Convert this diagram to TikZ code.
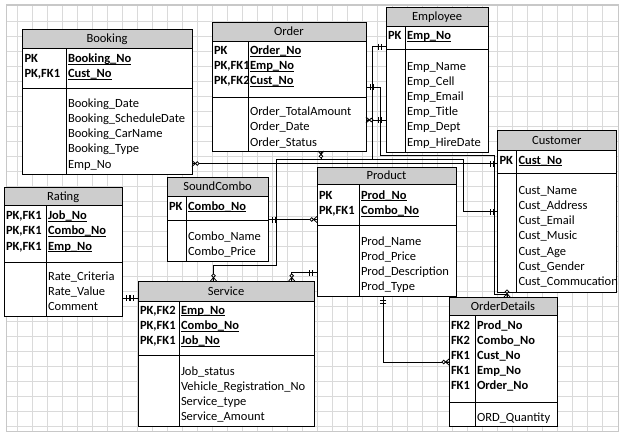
\documentclass[tikz,border=0pt]{standalone}
\usepackage{fontspec}
\setmainfont{Carlito}
\usetikzlibrary{calc}
\definecolor{hdrgray}{RGB}{205,205,205}
\definecolor{gridgray}{RGB}{218,218,218}
\definecolor{pagegray}{RGB}{200,200,200}
\newcommand{\ulkey}[1]{\setbox0\hbox{\bfseries #1}\rlap{\rule[-2.1pt]{\wd0}{0.8pt}}\box0}
\newcommand{\ertable}[9]{%
  \node[tblbox, minimum width={#4-#2}, minimum height={#5-#3}] (#1) at (#2,#3) {};
  \fill[hdrgray] (#2,#3) rectangle (#4,#6);
  \draw[tblline] (#2,#6) -- (#4,#6) (#2,#7) -- (#4,#7) (#8,#6) -- (#8,#5);
  \draw[tblline] (#1.north west) rectangle (#1.south east);
  \node[txt, anchor=base] (#1-title) at ({(#2+#4)/2},{(#3+#6)/2+4}) {#9};
}
\newcommand{\fld}[3]{\node[txt, anchor=base west] at (#1,#2) {#3};}
\tikzset{
  txt/.style={font=\fontsize{12.5}{15}\selectfont, inner sep=0pt, outer sep=0pt, text=black},
  tblbox/.style={fill=white, inner sep=0pt, outer sep=0pt, anchor=north west},
  tblline/.style={black, line width=0.8pt},
  connline/.style={black, line width=0.8pt},
  ermone/.pic={\draw[connline] (4.5,-3) -- (4.5,3) (7.5,-3) -- (7.5,3);},
  ermany/.pic={\draw[connline] (0,-3) -- (3.5,0) -- (0,3) (0,0) -- (3.5,0);
               \draw[connline, fill=white] (5.3,0) circle (1.8pt);},
}
\begin{document}
\begin{tikzpicture}[x=1pt, y=-1pt]
\useasboundingbox (0,0) rectangle (627,440);
\fill[white] (0,0) rectangle (627,440);
% page grid
\foreach \gx in {17.3,32.3,...,617} {\draw[gridgray, line width=0.6pt] (\gx,5.5) -- (\gx,431);}
\foreach \gy in {21,36,...,430} {\draw[gridgray, line width=0.6pt] (7,\gy) -- (618,\gy);}
\draw[pagegray, line width=1.5pt] (6.5,5) rectangle (618.5,431.5);

% ---------- tables ----------
\ertable{booking}{22}{29}{192}{174}{48}{88}{66}{Booking}
\fld{24.5}{62.5}{\bfseries PK}
\fld{24.5}{77.5}{\bfseries PK,FK1}
\fld{68}{62.5}{\ulkey{Booking\_No}}
\fld{68}{77.5}{\ulkey{Cust\_No}}
\fld{68}{107}{Booking\_Date}
\fld{68}{122.25}{Booking\_ScheduleDate}
\fld{68}{137.5}{Booking\_CarName}
\fld{68}{152.75}{Booking\_Type}
\fld{68}{168}{Emp\_No}

\ertable{order}{212}{22}{366}{151}{41}{97}{248}{Order}
\fld{214}{54.5}{\bfseries PK}
\fld{214}{69.7}{\bfseries PK,FK1}
\fld{214}{84.9}{\bfseries PK,FK2}
\fld{250}{54.5}{\ulkey{Order\_No}}
\fld{250}{69.7}{\ulkey{Emp\_No}}
\fld{250}{84.9}{\ulkey{Cust\_No}}
\fld{250}{115.7}{Order\_TotalAmount}
\fld{250}{130.9}{Order\_Date}
\fld{250}{146.1}{Order\_Status}

\ertable{employee}{386}{7}{488}{152.5}{26}{49}{405}{Employee}
\fld{388}{39.5}{\bfseries PK}
\fld{407}{39.5}{\ulkey{Emp\_No}}
\fld{407}{70}{Emp\_Name}
\fld{407}{85.2}{Emp\_Cell}
\fld{407}{100.4}{Emp\_Email}
\fld{407}{115.6}{Emp\_Title}
\fld{407}{130.8}{Emp\_Dept}
\fld{407}{146}{Emp\_HireDate}

\ertable{customer}{497.5}{130}{616}{292}{150}{173}{516.5}{Customer}
\fld{499.5}{164}{\bfseries PK}
\fld{518.5}{164}{\ulkey{Cust\_No}}
\fld{518.5}{194}{Cust\_Name}
\fld{518.5}{209.3}{Cust\_Address}
\fld{518.5}{224.6}{Cust\_Email}
\fld{518.5}{239.9}{Cust\_Music}
\fld{518.5}{255.2}{Cust\_Age}
\fld{518.5}{270.5}{Cust\_Gender}
\fld{518.5}{285.8}{Cust\_Commucation}

\ertable{rating}{4.3}{187}{122}{316}{205}{262}{46}{Rating}
\fld{6}{219.5}{\bfseries PK,FK1}
\fld{6}{234.8}{\bfseries PK,FK1}
\fld{6}{250}{\bfseries PK,FK1}
\fld{48}{219.5}{\ulkey{Job\_No}}
\fld{48}{234.8}{\ulkey{Combo\_No}}
\fld{48}{250}{\ulkey{Emp\_No}}
\fld{48}{280.7}{Rate\_Criteria}
\fld{48}{295.5}{Rate\_Value}
\fld{48}{310.3}{Comment}

\ertable{soundcombo}{167}{177}{268}{261}{196}{220}{186}{SoundCombo}
\fld{169}{210}{\bfseries PK}
\fld{188}{210}{\ulkey{Combo\_No}}
\fld{188}{240}{Combo\_Name}
\fld{188}{255.3}{Combo\_Price}

\ertable{service}{138}{281}{314}{426}{301}{355}{179}{Service}
\fld{140}{314}{\bfseries PK,FK2}
\fld{140}{329.2}{\bfseries PK,FK1}
\fld{140}{344.4}{\bfseries PK,FK1}
\fld{181}{314}{\ulkey{Emp\_No}}
\fld{181}{329.2}{\ulkey{Combo\_No}}
\fld{181}{344.4}{\ulkey{Job\_No}}
\fld{181}{375}{Job\_status}
\fld{181}{390.2}{Vehicle\_Registration\_No}
\fld{181}{405.4}{Service\_type}
\fld{181}{420.6}{Service\_Amount}

\ertable{product}{317}{167}{456}{296}{184.5}{225}{359}{Product}
\fld{319}{199}{\bfseries PK}
\fld{319}{214.2}{\bfseries PK,FK1}
\fld{361}{199}{\ulkey{Prod\_No}}
\fld{361}{214.2}{\ulkey{Combo\_No}}
\fld{361}{245}{Prod\_Name}
\fld{361}{260.2}{Prod\_Price}
\fld{361}{275.4}{Prod\_Description}
\fld{361}{290.6}{Prod\_Type}

\ertable{orderdetails}{449}{297}{557}{426}{315}{402}{475}{OrderDetails}
\fld{451}{329}{\bfseries FK2}
\fld{451}{344.2}{\bfseries FK2}
\fld{451}{359.4}{\bfseries FK1}
\fld{451}{374.6}{\bfseries FK1}
\fld{451}{389.8}{\bfseries FK1}
\fld{477}{329}{\bfseries Prod\_No}
\fld{477}{344.2}{\bfseries Combo\_No}
\fld{477}{359.4}{\bfseries Cust\_No}
\fld{477}{374.6}{\bfseries Emp\_No}
\fld{477}{389.8}{\bfseries Order\_No}
\fld{477}{421}{ORD\_Quantity}

% ---------- connectors ----------
% Booking - Customer
\draw[connline] (booking.east |- 0,163.5) -- (customer.west |- 0,163.5);
\pic at (booking.east |- 0,163.5) {ermany};
\pic[rotate=180] at (customer.west |- 0,163.5) {ermone};
% Order - Employee
\draw[connline] (order.east |- 0,120) -- (employee.west |- 0,120);
\pic at (order.east |- 0,120) {ermany};
\pic[rotate=180] at (employee.west |- 0,120) {ermone};
% Order - OrderDetails
\draw[connline] (order.east |- 0,87) -- (380.5,87) -- (380.5,155) -- (494.5,155)
  -- (494.5,294) -- (507,294) -- (orderdetails.north -| 507,0);
\pic at (order.east |- 0,87) {ermone};
\pic[rotate=90] at (orderdetails.north -| 507,0) {ermany};
% Employee - Service
\draw[connline] (employee.west |- 0,46.5) -- (372.5,46.5) -- (372.5,159) -- (276,159)
  -- (276,265) -- (213.5,265) -- (service.north -| 213.5,0);
\pic[rotate=180] at (employee.west |- 0,46.5) {ermone};
\pic[rotate=90] at (service.north -| 213.5,0) {ermany};
% Order - Customer
\draw[connline] (order.south -| 321,0) -- (321,159) -- (463,159) -- (463,211.5)
  -- (customer.west |- 0,211.5);
\pic[rotate=-90] at (order.south -| 321,0) {ermany};
\pic[rotate=180] at (customer.west |- 0,211.5) {ermone};
% SoundCombo - Product
\draw[connline] (soundcombo.east |- 0,219.5) -- (product.west |- 0,219.5);
\pic at (soundcombo.east |- 0,219.5) {ermone};
\pic[rotate=180] at (product.west |- 0,219.5) {ermany};
% Service - Product
\draw[connline] (service.north -| 291.7,0) -- (291.7,272.7) -- (product.west |- 0,272.7);
\pic[rotate=90] at (service.north -| 291.7,0) {ermany};
\pic[rotate=180] at (product.west |- 0,272.7) {ermone};
% Rating - Service
\draw[connline] (rating.east |- 0,298) -- (service.west |- 0,298);
\pic at (rating.east |- 0,298) {ermone};
\pic[rotate=180] at (service.west |- 0,298) {ermone};
% Product - OrderDetails
\draw[connline] (product.south -| 383.3,0) -- (383.3,362) -- (orderdetails.west |- 0,362);
\pic[rotate=-90] at (product.south -| 383.3,0) {ermone};
\pic[rotate=180] at (orderdetails.west |- 0,362) {ermany};
\end{tikzpicture}
\end{document}
